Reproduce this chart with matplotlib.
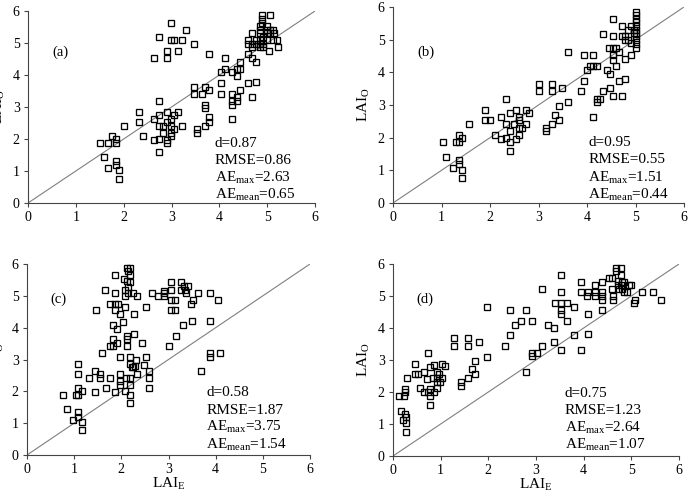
import matplotlib
matplotlib.use("Agg")
import matplotlib.pyplot as plt
import numpy as np

plt.rcParams['font.family'] = ['Liberation Serif', 'DejaVu Serif']
plt.rcParams['mathtext.fontset'] = 'custom'
plt.rcParams['mathtext.rm'] = 'Liberation Serif'
plt.rcParams['mathtext.it'] = 'Liberation Serif:italic'

# ---- Panel (a) ----
xa = [1.51,1.58,1.67,1.67,1.76,1.83,1.83,1.83,1.83,1.91,1.91,2.01,2.32,2.32,2.41,2.64,2.64,2.74,2.74,2.74,
      2.74,2.74,2.64,2.83,2.83,2.74,2.90,2.90,2.90,2.90,2.90,2.90,2.98,2.98,2.98,2.98,2.98,2.98,3.05,3.05,
      3.05,3.14,3.14,3.21,3.21,3.30,3.46,3.46,3.46,3.54,3.54,3.63,3.70,3.70,3.70,3.70,3.78,3.78,3.78,3.78,
      4.03,4.03,4.03,4.11,4.11,4.27,4.27,4.27,4.27,4.27,4.36,4.36,4.36,4.36,4.43,4.43,4.43,4.60,4.60,4.60,
      4.60,4.68,4.68,4.68,4.76,4.76,4.68,4.68,4.76,4.76,4.84,4.84,4.84,4.84,4.84,4.84,4.89,4.89,4.89,4.92,
      4.92,4.99,4.99,4.99,4.99,4.92,5.06,5.06,5.06,5.03,5.13,5.13,5.15,5.20,5.22]
ya = [1.86,1.43,1.86,1.08,2.09,1.99,1.86,1.32,1.20,1.02,0.76,2.42,2.85,2.53,2.09,4.53,1.97,5.20,3.20,2.75,
      2.42,1.58,2.64,2.42,2.20,1.99,4.75,4.53,2.85,2.53,1.97,1.86,5.64,5.09,2.64,2.42,2.20,2.09,5.09,2.75,
      2.30,4.75,2.85,5.09,2.42,5.40,4.98,3.64,3.42,2.30,2.20,3.42,3.64,3.07,2.96,2.42,4.65,3.53,2.70,2.53,
      4.08,3.76,3.42,4.53,4.19,4.08,3.42,3.20,3.07,2.64,4.19,3.96,3.30,3.20,4.41,4.19,3.53,4.65,3.76,5.09,
      4.98,5.30,4.53,3.30,4.41,3.79,4.98,4.88,5.09,4.98,5.53,5.41,5.30,5.09,4.98,4.88,5.86,5.76,5.64,5.20,
      4.98,5.53,5.41,5.30,5.09,4.86,5.89,5.41,5.30,4.76,5.41,5.09,5.30,5.09,4.86]

# ---- Panel (b) ----
xb = [1.03,1.09,1.23,1.29,1.36,1.36,1.36,1.36,1.42,1.42,1.42,1.57,1.89,1.89,2.01,2.10,2.22,2.22,2.34,2.34,
      2.34,2.41,2.41,2.41,2.41,2.49,2.54,2.54,2.60,2.60,2.60,2.60,2.66,2.74,2.74,2.81,3.02,3.02,3.15,3.15,
      3.28,3.28,3.28,3.35,3.42,3.42,3.48,3.61,3.61,3.87,3.94,3.94,4.01,4.06,4.13,4.13,4.13,4.20,4.20,4.27,
      4.20,4.32,4.32,4.41,4.45,4.47,4.47,4.53,4.53,4.53,4.53,4.53,4.53,4.60,4.60,4.67,4.67,4.72,4.72,4.72,
      4.79,4.79,4.79,4.79,4.85,4.85,4.91,4.91,4.91,5.00,5.00,5.00,5.00,5.00,5.00,5.00,5.00,5.00,5.00,5.00,
      4.96,4.96]
yb = [1.87,1.42,1.08,1.87,2.09,1.87,1.32,1.20,2.00,1.02,0.76,2.41,2.85,2.53,2.53,2.09,2.64,1.97,3.19,2.41,
      2.00,2.75,2.19,1.87,1.60,2.41,2.85,1.97,2.64,2.53,2.30,2.09,2.30,2.85,2.41,2.75,3.64,3.42,2.30,2.19,
      3.64,3.42,2.41,2.70,2.96,2.53,3.53,4.63,3.08,3.42,4.52,3.75,4.06,4.18,4.52,4.18,2.64,3.08,3.19,3.19,
      4.18,3.42,5.18,4.06,4.75,3.96,3.53,5.64,5.10,4.75,4.52,4.39,3.29,4.75,4.18,3.75,4.63,5.41,5.10,3.29,
      5.10,5.00,4.41,3.79,5.30,5.00,5.41,4.90,4.52,5.86,5.76,5.64,5.53,5.41,5.30,5.20,5.10,5.00,4.88,4.75,
      5.30,5.20]

# ---- Panel (c) ----
xc = [0.77,0.84,0.97,1.03,1.09,1.09,1.09,1.09,1.09,1.09,1.17,1.17,1.17,1.32,1.44,1.44,1.46,1.54,1.54,1.60,
      1.67,1.66,1.76,1.76,1.76,1.83,1.83,1.83,1.86,1.86,1.86,1.86,1.86,1.90,1.90,1.93,1.97,1.97,1.97,1.97,
      1.97,2.04,2.05,2.07,2.08,2.08,2.08,2.10,2.11,2.11,2.12,2.13,2.13,2.15,2.15,2.15,2.18,2.18,2.18,2.18,
      2.18,2.18,2.18,2.19,2.19,2.22,2.24,2.25,2.27,2.27,2.29,2.32,2.33,2.34,2.43,2.47,2.52,2.52,2.59,2.59,
      2.59,2.64,2.78,2.91,2.91,2.91,3.01,3.05,3.05,3.05,3.05,3.13,3.13,3.16,3.26,3.27,3.31,3.32,3.35,3.38,
      3.41,3.47,3.50,3.52,3.63,3.68,3.88,3.88,3.88,3.88,4.05,4.10]
yc = [1.89,1.43,1.10,1.89,2.87,2.55,2.11,1.89,1.34,1.20,2.01,1.04,0.78,2.43,2.65,1.98,4.54,2.55,2.43,3.20,
      2.11,5.19,2.43,3.42,4.75,3.42,3.64,4.07,5.65,5.08,4.75,4.54,1.98,3.96,3.53,4.75,4.42,3.08,2.55,2.33,
      2.21,4.18,5.54,5.19,4.98,4.65,2.01,2.43,5.87,3.75,5.46,3.64,3.42,5.78,5.29,5.08,5.87,5.65,5.44,3.08,
      2.87,2.43,2.21,1.89,1.62,2.76,5.08,2.76,3.79,4.42,2.81,2.98,2.55,4.98,3.53,2.83,4.65,3.09,2.65,2.43,
      2.11,5.08,4.98,5.14,5.08,4.98,3.42,5.42,5.19,4.87,4.54,4.87,4.54,3.75,5.19,5.42,4.09,5.30,5.19,5.08,
      5.31,4.75,4.20,4.87,5.08,2.65,5.08,4.20,3.20,3.09,4.87,3.20]

# ---- Panel (d) ----
xd = [0.13,0.17,0.20,0.23,0.25,0.25,0.25,0.27,0.27,0.27,0.30,0.46,0.46,0.52,0.57,0.64,0.64,0.72,0.73,0.73,
      0.78,0.78,0.78,0.78,0.83,0.87,0.87,0.92,0.92,0.92,0.93,0.97,0.99,1.03,1.03,1.10,1.28,1.28,1.42,1.42,
      1.57,1.57,1.57,1.65,1.72,1.72,1.80,1.98,1.98,2.36,2.45,2.45,2.56,2.68,2.78,2.80,2.91,2.91,2.91,3.03,
      3.13,3.13,3.26,3.38,3.38,3.39,3.52,3.52,3.52,3.52,3.52,3.52,3.64,3.64,3.80,3.80,3.95,3.95,3.95,4.08,
      4.09,4.09,4.09,4.23,4.23,4.23,4.39,4.39,4.39,4.39,4.39,4.53,4.59,4.60,4.62,4.62,4.67,4.67,4.71,4.71,
      4.74,4.78,4.78,4.78,4.81,4.81,4.85,4.85,4.90,4.95,4.99,5.06,5.07,5.22,5.46,5.62]
yd = [1.89,1.42,1.11,1.89,2.10,2.01,1.31,1.23,1.02,0.75,2.43,2.86,2.55,2.55,2.11,2.64,2.00,2.42,3.21,2.00,
      2.77,1.60,1.88,2.10,2.43,2.00,2.84,2.64,2.43,2.31,2.12,2.55,2.31,2.86,2.43,2.82,3.68,3.44,2.31,2.20,
      3.68,3.44,2.43,2.72,2.98,2.56,3.55,4.67,3.10,3.44,4.57,3.77,4.10,4.22,2.64,4.57,4.22,3.21,3.11,3.21,
      3.44,5.21,4.10,3.55,3.99,4.79,5.66,5.11,4.79,4.57,4.45,3.32,4.79,4.22,4.67,3.77,5.44,5.11,3.32,5.00,
      5.11,4.45,3.81,5.33,5.11,5.00,5.44,5.11,5.00,4.88,4.57,5.55,5.55,5.21,5.00,4.88,5.87,5.79,5.48,5.33,
      5.21,5.89,5.66,5.33,5.44,5.21,5.11,5.44,5.11,5.33,5.33,4.78,4.88,5.11,5.11,4.88]

panel_labels = ["(a)", "(b)", "(c)", "(d)"]
stats = [("0.87", "0.86", "2.63", "0.65"),
         ("0.95", "0.55", "1.51", "0.44"),
         ("0.58", "1.87", "3.75", "1.54"),
         ("0.75", "1.23", "2.64", "1.07")]
ticks = [0, 1, 2, 3, 4, 5, 6]

fig = plt.figure(figsize=(6.88, 4.94), dpi=100)
W, H = 688.0, 494.0
# pixel boxes (left, top, right, bottom)
boxes = [(28, 11, 315, 203), (393, 7, 684, 203), (27, 264, 310, 455), (393, 264, 679, 456)]
data = [(xa, ya), (xb, yb), (xc, yc), (xd, yd)]
label_y = [4.72, 4.62, 4.9, 4.9]
stat_x = [3.9, 4.03, 3.8, 3.6]
stat_y0 = [1.86, 1.86, 1.95, 1.95]

for i, ((l, t, r, b), (xs, ys)) in enumerate(zip(boxes, data)):
    ax = fig.add_axes([l / W, 1 - b / H, (r - l) / W, (b - t) / H])
    ax.plot([0, 6], [0, 6], color='#7f7f7f', lw=0.8, zorder=1)
    ax.plot(xs, ys, linestyle='none', marker='s', ms=4.6, mfc='none', mec='black',
            mew=0.95, zorder=3, clip_on=False)
    ax.set_xlim(0, 6)
    ax.set_ylim(0, 6)
    ax.set_xticks(ticks)
    ax.set_yticks(ticks)
    for s in ['top', 'right']:
        ax.spines[s].set_visible(False)
    for s in ['left', 'bottom']:
        ax.spines[s].set_color('#444444')
        ax.spines[s].set_linewidth(0.8)
    ax.tick_params(direction='out', length=3, width=0.8, color='#444444',
                   labelsize=10, pad=3)
    ax.text(0.5, label_y[i], panel_labels[i], fontsize=10.5, ha='left', va='center')
    d, rm, mx, mn = stats[i]
    lines = ["d=" + d, "RMSE=" + rm, r"AE$_{\mathrm{max}}$=" + mx, r"AE$_{\mathrm{mean}}$=" + mn]
    for k, s in enumerate(lines):
        ax.text(stat_x[i], stat_y0[i] - k * 0.54, s, fontsize=11, ha='left', va='center')
    ax.set_ylabel(r"LAI$_{\mathrm{O}}$", fontsize=11, labelpad=4)
    if i >= 2:
        ax.set_xlabel(r"LAI$_{\mathrm{E}}$", fontsize=11, labelpad=0)

fig.savefig("out.png", dpi=100)
